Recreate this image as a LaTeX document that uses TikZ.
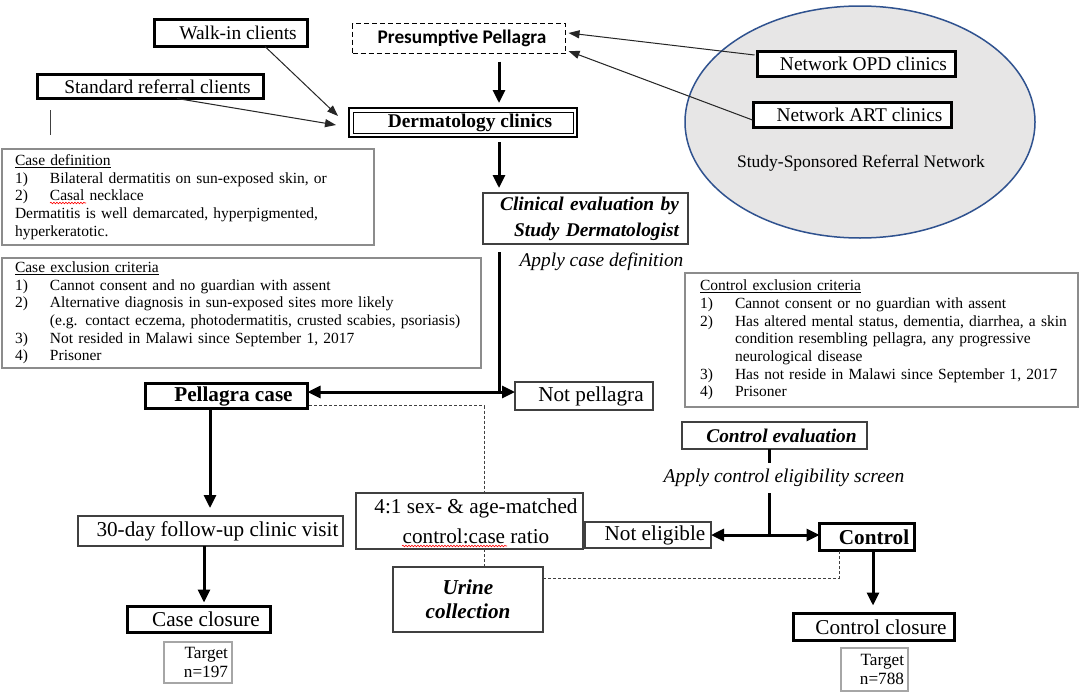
\documentclass[tikz,border=0pt]{standalone}
\usepackage{fontspec}
\setmainfont{Liberation Serif}
\newfontfamily\calibri{Carlito}
\usetikzlibrary{arrows.meta,calc,decorations.pathmorphing,shapes.geometric}
\definecolor{dkgray}{HTML}{404040}
\definecolor{ltgray}{HTML}{8C8C8C}
\definecolor{tgtgray}{HTML}{A6A6A6}
\definecolor{ellfill}{HTML}{E7E6E6}
\definecolor{ellline}{HTML}{2F528F}
\newcommand\critnum[1]{\makebox[35pt][l]{#1}}
\begin{document}
\begin{tikzpicture}[x=1pt,y=-1pt,
 every node/.style={inner sep=0pt,outer sep=0pt},
 fa/.style={font=\fontsize{19.4}{22}\selectfont},
 fb/.style={font=\fontsize{21.2}{26}\selectfont},
 fs/.style={font=\fontsize{15.5}{17.7}\selectfont},
 thickbox/.style={draw=black,line width=3pt,fill=white},
 thinbox/.style={draw=dkgray,line width=1.2pt,fill=white},
 critbox/.style={draw=ltgray,line width=1.2pt,fill=white,align=left,anchor=north west,fs},
 tgtbox/.style={draw=tgtgray,line width=1.2pt,align=right,font=\fontsize{17.2}{19}\selectfont,inner xsep=4pt},
 arr/.style={line width=3pt,-{Triangle[length=13pt,width=12pt]}},
 arrr/.style={line width=3pt,{Triangle[length=13pt,width=12pt]}-{Triangle[length=13pt,width=12pt]}},
 thk/.style={line width=3pt},
 tarr/.style={line width=1pt,draw=black!85,-{Triangle[length=11pt,width=8pt]}},
 dotc/.style={draw=dkgray,line width=1pt,dash pattern=on 3pt off 2pt},
 off/.style={execute at begin node={\hspace*{14pt}}},
 squig/.style={draw=red,line width=0.6pt,decorate,decoration={snake,amplitude=0.8pt,segment length=3pt}}
]
\useasboundingbox[fill=white] (0,0) rectangle (1084,696);

% referral network ellipse
\node (net) [draw=ellline,line width=1.5pt,fill=ellfill,ellipse,minimum width=350,minimum height=232] at (860,122) {};
\node (netlbl) [font=\fontsize{17.5}{20}\selectfont] at (861,163) {Study-Sponsored Referral Network};
\node (opd) [thickbox,fa,off,minimum width=198,minimum height=25] at (856.5,64) {Network OPD clinics};
\node (art) [thickbox,fa,off,minimum width=198,minimum height=25] at (852.5,115) {Network ART clinics};

% top flow
\node (walk) [thickbox,fa,off,minimum width=153,minimum height=27] at (231,33) {Walk-in clients};
\node (std) [thickbox,fa,off,minimum width=226,minimum height=24] at (150.5,86.5) {Standard referral clients};
\node (pres) [draw=black,line width=1.5pt,dash pattern=on 5pt off 3pt,fill=white,
  font={\calibri\bfseries\fontsize{19.3}{22}\selectfont},minimum width=213,minimum height=30] at (459,38.5) {\hspace*{6pt}Presumptive Pellagra};
\node (derm) [draw=black,line width=2pt,fill=white,font=\bfseries\fontsize{19.4}{22}\selectfont,off,
  minimum width=228,minimum height=29] at (463,122.5) {Dermatology clinics};
\draw[line width=1pt] ($(derm.south west)+(4,-4)$) rectangle ($(derm.north east)+(-4,4)$);
\node (clin) [thinbox,font=\bfseries\itshape\fontsize{19.4}{26}\selectfont,align=right,text width=187,inner xsep=9pt,
  minimum height=51] at (585.5,218.5) {Clinical evaluation by\\Study Dermatologist};
\node (acd) [font=\itshape\fontsize{19.4}{22}\selectfont] at (601.5,262) {Apply case definition};

\draw[line width=1pt,draw=dkgray] (50,110) -- (50,135);

% criteria boxes
\node (casedef) [critbox,minimum width=372,minimum height=96,text width=346,inner xsep=13pt] at (2,149) {%
\underline{Case definition}\\
\critnum{1)}Bilateral dermatitis on sun-exposed skin, or\\
\critnum{2)}Casal necklace\\
Dermatitis is well demarcated, hyperpigmented,\\
hyperkeratotic.};
\node (caseexc) [critbox,minimum width=479,minimum height=110,text width=453,inner xsep=13pt] at (2,258) {%
\underline{Case exclusion criteria}\\
\critnum{1)}Cannot consent and no guardian with assent\\
\critnum{2)}Alternative diagnosis in sun-exposed sites more likely\\
\critnum{}\mbox{(e.g. contact eczema, photodermatitis, crusted scabies, psoriasis)}\\
\critnum{3)}Not resided in Malawi since September 1, 2017\\
\critnum{4)}Prisoner};
\node (ctrlexc) [critbox,minimum width=393,minimum height=134,text width=363,inner xsep=15pt] at (685,273) {%
\underline{Control exclusion criteria}\\
\critnum{1)}Cannot consent or no guardian with assent\\
\critnum{2)}\mbox{Has altered mental status, dementia, diarrhea, a skin}\\
\critnum{}condition resembling pellagra, any progressive\\
\critnum{}neurological disease\\
\critnum{3)}Has not reside in Malawi since September 1, 2017\\
\critnum{4)}Prisoner};
\draw[squig] (50,203) -- (86,203);

% middle
\node (pcase) [thickbox,font=\bfseries\fontsize{21.2}{26}\selectfont,off,minimum width=162,minimum height=25] at (226.5,396) {Pellagra case};
\node (notp) [thinbox,fb,off,minimum width=138,minimum height=28] at (584,396) {Not pellagra};
\node (fu) [thinbox,fb,off,minimum width=265,minimum height=30] at (210.5,531) {30-day follow-up clinic visit};
\node (ratio) [thinbox,font=\fontsize{21.2}{30}\selectfont,align=center,minimum width=227,minimum height=56] at (469.5,521)
  {\hspace*{13pt}4:1 sex- \& age-matched\\\hspace*{13pt}control:case ratio};
\draw[squig] (402,546) -- (507,546);
\node (urine) [thinbox,font=\bfseries\itshape\fontsize{21.2}{24}\selectfont,align=center,minimum width=150,minimum height=65] at (468,599.5)
  {Urine\\collection};
\node (cclos) [thickbox,fb,off,minimum width=143,minimum height=26] at (199,619.5) {Case closure};
\node (t197) [tgtbox,text width=60,minimum height=41] at (198,662.5) {Target\\n=197};

% control side
\node (ceval) [thinbox,font=\bfseries\itshape\fontsize{19.4}{22}\selectfont,off,minimum width=185,minimum height=27] at (774.5,435.5) {Control evaluation};
\node (ace) [font=\itshape\fontsize{19.5}{22}\selectfont] at (784,478) {Apply control eligibility screen};
\node (note) [thinbox,fb,off,minimum width=126,minimum height=26] at (648,535) {Not eligible};
\node (ctrl) [thickbox,font=\bfseries\fontsize{21.2}{26}\selectfont,off,minimum width=95,minimum height=27] at (867,537) {Control};
\node (ctrlclos) [thickbox,fb,off,minimum width=161,minimum height=27] at (874,627) {Control closure};
\node (t788) [tgtbox,text width=59,minimum height=43] at (874.5,669.5) {Target\\n=788};

% helper coordinates
\coordinate (xm) at (499,0);
\coordinate (sp1) at (499,392);
\coordinate (xl) at (210,0);
\coordinate (xf) at (204,0);
\coordinate (xd) at (484,0);
\coordinate (sp2) at (769,535);
\coordinate (xc) at (873,0);
\coordinate (xq) at (839,0);

% thin referral arrows
\draw[tarr] ($(walk.south)+(34,0)$) -- ($(derm.west)+(-11,-6.5)$);
\draw[tarr] ($(std.south)+(26.5,0)$) -- ($(derm.west)+(-13,2.5)$);
\draw[tarr] ($(opd.west)+(-3,-9)$) -- ($(pres.east)+(3,-5.5)$);
\draw[tarr] ($(art.west)+(-1,5)$) -- ($(pres.east)+(3,12.5)$);

% thick flow arrows
\draw[arr,shorten <=8pt,shorten >=5pt] (pres.south -| xm) -- (derm.north -| xm);
\draw[arr,shorten <=5pt,shorten >=5pt] (derm.south -| xm) -- (clin.north -| xm);
\draw[thk,shorten <=8pt] (clin.south -| xm) -- (sp1);
\draw[arrr] (pcase.east |- sp1) -- (notp.west |- sp1);
\draw[arr,shorten <=1pt,shorten >=8pt] (pcase.south -| xl) -- (fu.north -| xl);
\draw[arr,shorten >=4pt] (fu.south -| xf) -- (cclos.north -| xf);
\draw[thk] (ceval.south -| sp2) -- ++(0,14);
\draw[thk] ($(sp2)+(0,-42)$) -- (sp2);
\draw[arrr] (note.east |- sp2) -- (ctrl.west |- sp2);
\draw[arr,shorten >=8pt] (ctrl.south -| xc) -- (ctrlclos.north -| xc);

% dotted matching lines
\draw[dotc] ($(pcase.south east)+(1.5,-3)$) -| (ratio.north -| xd);
\draw[dotc] (ratio.south -| xd) -- (urine.north -| xd);
\draw[dotc] ($(urine.north east)+(0,11)$) -| (ctrl.south -| xq);
\end{tikzpicture}
\end{document}
